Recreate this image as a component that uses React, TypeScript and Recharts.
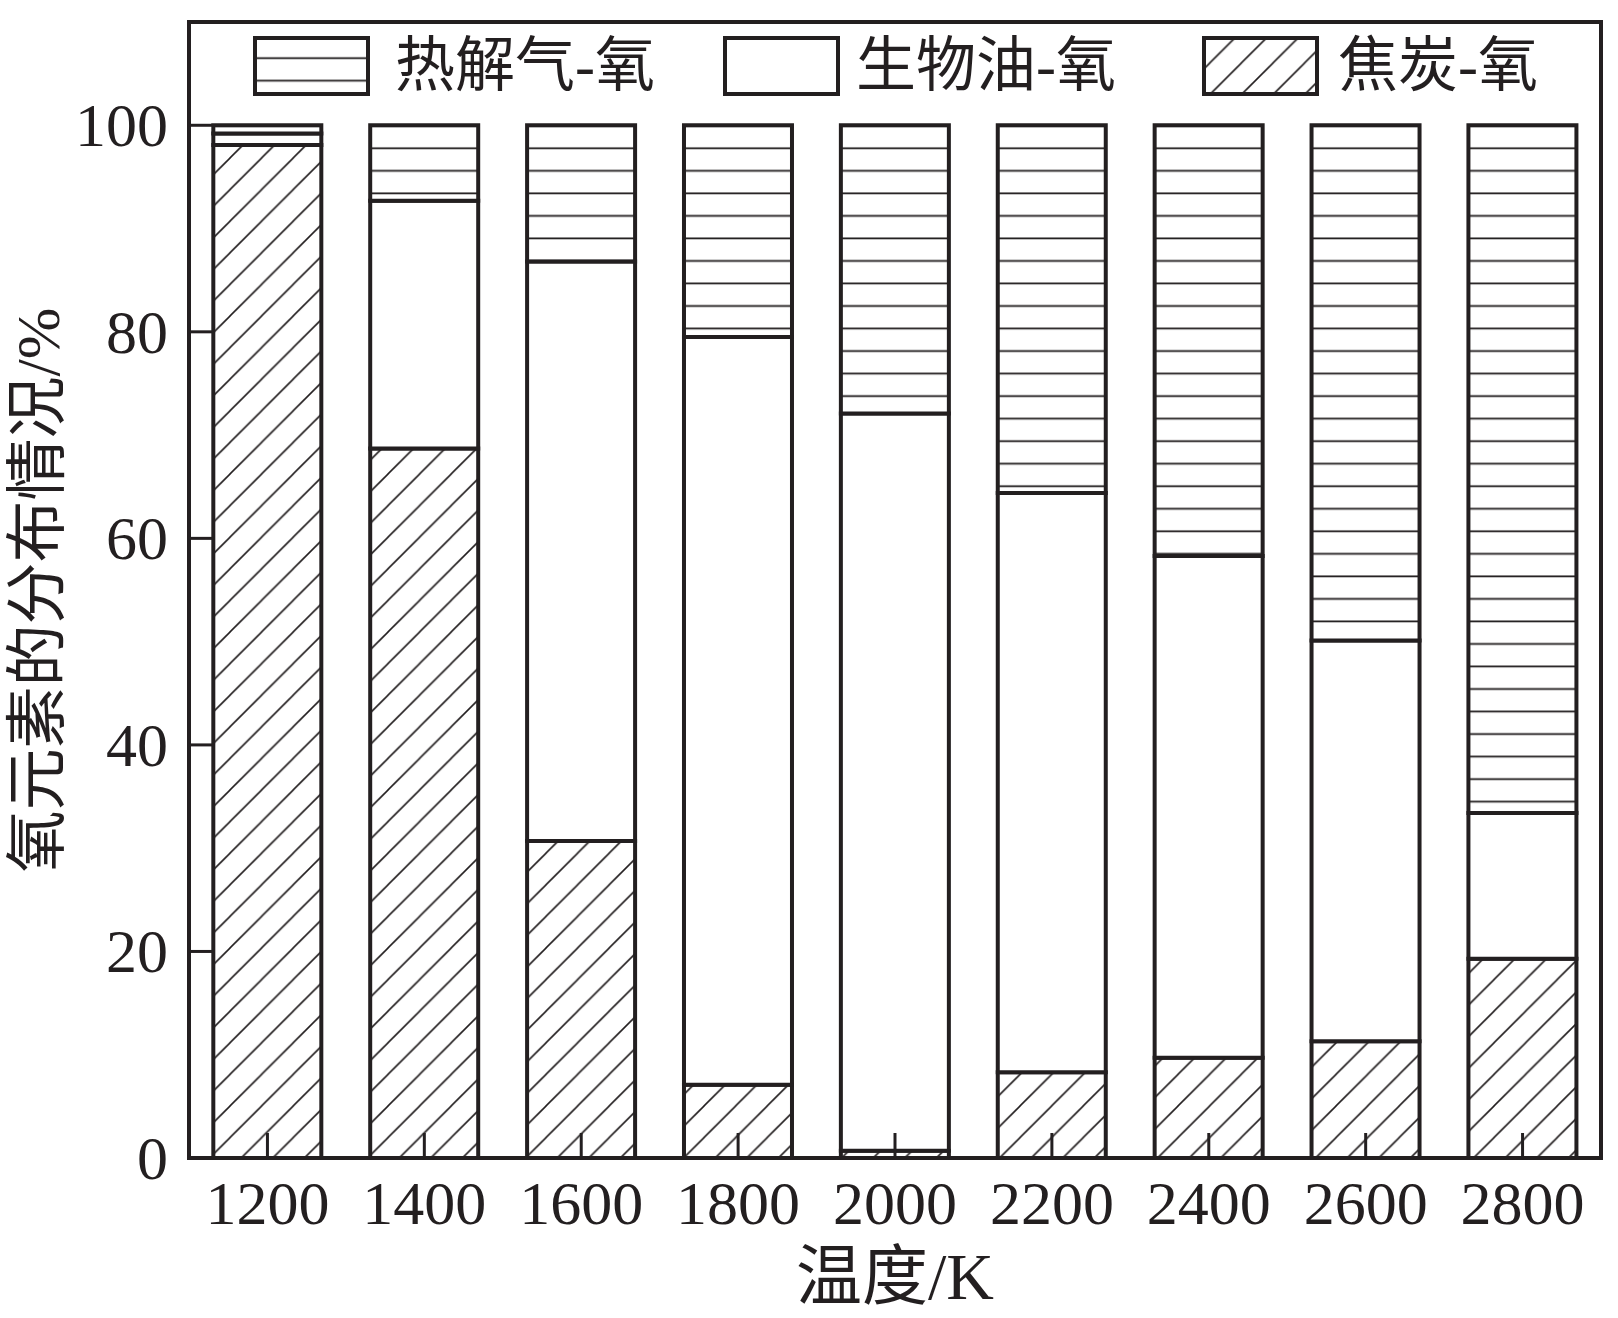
import React from "react";
import { BarChart, Bar, XAxis, YAxis, Legend, ReferenceArea } from "recharts";

// temperature categories (K)
const temps = ["1200", "1400", "1600", "1800", "2000", "2200", "2400", "2600", "2800"];
// oxygen share (%), bottom -> top of each stack
const charOxygen = [98.1, 68.7, 30.7, 7.1, 0.7, 8.3, 9.7, 11.3, 19.3];
const oilOxygen = [1.1, 24.0, 56.1, 72.4, 71.4, 56.1, 48.6, 38.8, 14.1];
const gasOxygen = [0.8, 7.3, 13.2, 20.5, 27.9, 35.6, 41.7, 49.9, 66.6];
const yTicks = [0, 20, 40, 60, 80, 100];

const data = temps.map((t, i) => ({
  temp: t,
  char: charOxygen[i],
  oil: oilOxygen[i],
  gas: gasOxygen[i],
}));

const INK = "#231f20";
const SERIF = "'Liberation Serif', 'Noto Sans CJK SC', serif";

const legendItems = [
  { key: "gas", name: "热解气-氧", fill: "url(#gasHatch)", box: 255, text: 395 },
  { key: "oil", name: "生物油-氧", fill: "#fff", box: 725, text: 856 },
  { key: "char", name: "焦炭-氧", fill: "url(#charHatch)", box: 1204, text: 1338 },
];

const Patterns = () => (
  <svg width={0} height={0} style={{ position: "absolute" }}>
    <defs>
      <pattern id="gasHatch" patternUnits="userSpaceOnUse" x={0} y={0} width={20} height={22.53}>
        <rect width={20} height={22.53} fill="#fff" />
        <line x1={-1} x2={21} y1={13.1} y2={13.1} stroke={INK} strokeWidth={1.8} />
      </pattern>
      <pattern id="charHatch" patternUnits="userSpaceOnUse" x={8.8} y={0} width={31.6} height={31.6}>
        <rect width={31.6} height={31.6} fill="#fff" />
        <line x1={-2} y1={33.6} x2={33.6} y2={-2} stroke={INK} strokeWidth={1.6} />
        <line x1={-2} y1={2} x2={2} y2={-2} stroke={INK} strokeWidth={1.6} />
        <line x1={29.6} y1={33.6} x2={33.6} y2={29.6} stroke={INK} strokeWidth={1.6} />
      </pattern>
    </defs>
  </svg>
);

const XTick = (props: any) => {
  const { x, y, payload } = props;
  return (
    <g>
      <line x1={x} x2={x} y1={y} y2={y - 25} stroke={INK} strokeWidth={3} />
      <text x={x} y={y + 66} textAnchor="middle" fontSize={62} fontFamily={SERIF} fill={INK}>
        {payload.value}
      </text>
    </g>
  );
};

const YTick = (props: any) => {
  const { x, y, payload } = props;
  return (
    <g>
      <line x1={x} x2={x + 23} y1={y} y2={y} stroke={INK} strokeWidth={3} />
      <text x={x - 21} y={y + 21} textAnchor="end" fontSize={62} fontFamily={SERIF} fill={INK}>
        {payload.value}
      </text>
    </g>
  );
};

const LegendBoxes = () => (
  <svg width={1618} height={1318} style={{ position: "absolute", left: 0, top: 0 }}>
    {legendItems.map((it) => (
      <g key={it.key}>
        <rect x={it.box} y={38} width={113} height={56} fill={it.fill} stroke={INK} strokeWidth={4} />
        <text x={it.text} y={86} fontSize={60} fontFamily={SERIF} fill={INK}>
          {it.name}
        </text>
      </g>
    ))}
  </svg>
);

const App = () => {
  const axisLine = { stroke: INK, strokeWidth: 4 };
  return (
    <div style={{ position: "relative", width: 1618, height: 1318, background: "#fff" }}>
      <style>{"body{margin:0}"}</style>
      <Patterns />
      <BarChart
        width={1618}
        height={1318}
        data={data}
        margin={{ top: 22, right: 17, bottom: 0, left: 0 }}
        barCategoryGap="15.5%"
      >
        <Bar dataKey="char" stackId="o" fill="url(#charHatch)" stroke={INK} strokeWidth={4} isAnimationActive={false} />
        <Bar dataKey="oil" stackId="o" fill="#fff" stroke={INK} strokeWidth={4} isAnimationActive={false} />
        <Bar dataKey="gas" stackId="o" fill="url(#gasHatch)" stroke={INK} strokeWidth={4} isAnimationActive={false} />
        {/* plot frame */}
        <ReferenceArea y1={0} y2={110} fill="none" fillOpacity={0} stroke={INK} strokeWidth={4} ifOverflow="visible" />
        <XAxis
          dataKey="temp"
          height={160}
          axisLine={axisLine}
          tickLine={false}
          tickSize={0}
          tickMargin={0}
          tick={<XTick />}
          interval={0}
          label={() => (
            <text x={895} y={1299} textAnchor="middle" fontSize={66} fontFamily={SERIF} fill={INK}>
              温度/K
            </text>
          )}
        />
        <YAxis
          width={189}
          domain={[0, 110]}
          ticks={yTicks}
          axisLine={axisLine}
          tickLine={false}
          tickSize={0}
          tickMargin={0}
          tick={<YTick />}
          label={() => (
            <text
              x={38}
              y={590}
              transform="rotate(-90 38 590)"
              textAnchor="middle"
              dominantBaseline="central"
              fontSize={62}
              fontFamily={SERIF}
              fill={INK}
            >
              氧元素的分布情况/%
            </text>
          )}
        />
        <Legend
          layout="vertical"
          align="center"
          verticalAlign="middle"
          wrapperStyle={{ position: "absolute", left: 0, top: 0, width: 1618, height: 1318, pointerEvents: "none" }}
          content={() => <LegendBoxes />}
        />
      </BarChart>
    </div>
  );
};

export default App;
